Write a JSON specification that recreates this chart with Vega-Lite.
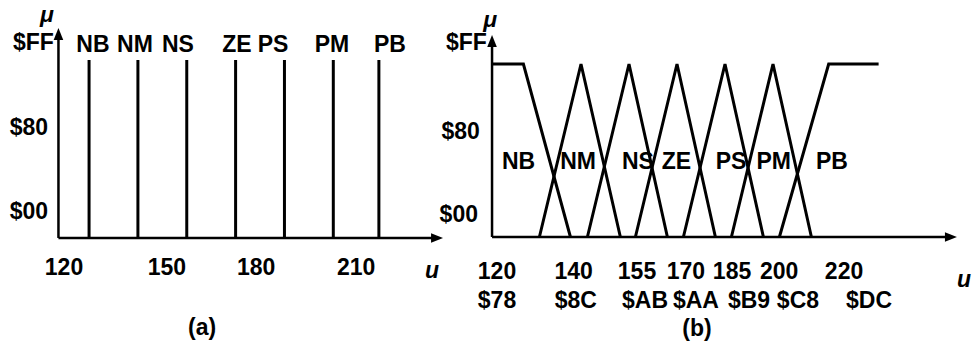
{
  "$schema": "https://vega.github.io/schema/vega-lite/v6.json",
  "autosize": {"type": "pad"},
  "padding": 0,
  "background": "white",
  "spacing": 0,
  "bounds": "flush",
  "config": {"view": {"stroke": null}, "text": {"font": "Liberation Sans", "fontSize": 23, "fontWeight": "bold", "baseline": "middle", "color": "black"}},
  "resolve": {"scale": {"x": "independent", "y": "independent", "shape": "independent"}},
  "datasets": {
    "a_axes": [{"u": 118.6, "u2": 118.6, "m": 0, "m2": 1.13}, {"u": 118.6, "u2": 235, "m": 0, "m2": 0}],
    "a_arrows": [{"u": 118.6, "m": 1.146, "dir": "up"}, {"u": 234.86, "m": 0, "dir": "right"}],
    "a_spikes": [
      {"set": "NB", "u": 128, "m": 1}, {"set": "NM", "u": 143, "m": 1}, {"set": "NS", "u": 158, "m": 1},
      {"set": "ZE", "u": 173, "m": 1}, {"set": "PS", "u": 188, "m": 1}, {"set": "PM", "u": 203, "m": 1},
      {"set": "PB", "u": 217, "m": 1}
    ],
    "a_text": [
      {"kind": "set", "t": "NB", "u": 129.2, "m": 1.084}, {"kind": "set", "t": "NM", "u": 142.1, "m": 1.084},
      {"kind": "set", "t": "NS", "u": 155.3, "m": 1.084}, {"kind": "set", "t": "ZE", "u": 173.4, "m": 1.084},
      {"kind": "set", "t": "PS", "u": 184.5, "m": 1.084}, {"kind": "set", "t": "PM", "u": 202.6, "m": 1.084},
      {"kind": "set", "t": "PB", "u": 220.4, "m": 1.084},
      {"kind": "ylab", "t": "$FF", "u": 117.2, "m": 1.096}, {"kind": "ylab", "t": "$80", "u": 115.4, "m": 0.618},
      {"kind": "ylab", "t": "$00", "u": 115.4, "m": 0.146},
      {"kind": "set", "t": "120", "u": 120.3, "m": -0.169}, {"kind": "set", "t": "150", "u": 151.9, "m": -0.169},
      {"kind": "set", "t": "180", "u": 179.3, "m": -0.169}, {"kind": "set", "t": "210", "u": 210, "m": -0.169},
      {"kind": "set", "t": "(a)", "u": 162.7, "m": -0.506},
      {"kind": "ital", "t": "u", "u": 233.3, "m": -0.185},
      {"kind": "ital", "t": "μ", "u": 115.1, "m": 1.253}
    ],
    "b_axes": [{"u": 112.2, "u2": 112.2, "m": 0, "m2": 1.1}, {"u": 112.2, "u2": 255, "m": 0, "m2": 0}],
    "b_arrows": [{"u": 112.2, "m": 1.133, "dir": "up"}, {"u": 255.6, "m": 0, "dir": "right"}],
    "b_sets": [
      {"set": "NB", "i": 0, "u": 112.2, "m": 1}, {"set": "NB", "i": 1, "u": 122, "m": 1}, {"set": "NB", "i": 2, "u": 136.7, "m": 0},
      {"set": "NM", "i": 0, "u": 127, "m": 0}, {"set": "NM", "i": 1, "u": 140, "m": 1}, {"set": "NM", "i": 2, "u": 152.3, "m": 0},
      {"set": "NS", "i": 0, "u": 142, "m": 0}, {"set": "NS", "i": 1, "u": 155, "m": 1}, {"set": "NS", "i": 2, "u": 167, "m": 0},
      {"set": "ZE", "i": 0, "u": 157, "m": 0}, {"set": "ZE", "i": 1, "u": 170, "m": 1}, {"set": "ZE", "i": 2, "u": 182, "m": 0},
      {"set": "PS", "i": 0, "u": 172, "m": 0}, {"set": "PS", "i": 1, "u": 185, "m": 1}, {"set": "PS", "i": 2, "u": 197, "m": 0},
      {"set": "PM", "i": 0, "u": 187, "m": 0}, {"set": "PM", "i": 1, "u": 200, "m": 1}, {"set": "PM", "i": 2, "u": 212, "m": 0},
      {"set": "PB", "i": 0, "u": 202, "m": 0}, {"set": "PB", "i": 1, "u": 217.4, "m": 1}, {"set": "PB", "i": 2, "u": 233, "m": 1}
    ],
    "b_text": [
      {"kind": "set", "t": "NB", "u": 120.5, "m": 0.434}, {"kind": "set", "t": "NM", "u": 139.1, "m": 0.434},
      {"kind": "set", "t": "NS", "u": 157.8, "m": 0.434}, {"kind": "set", "t": "ZE", "u": 169.8, "m": 0.434},
      {"kind": "set", "t": "PS", "u": 186.9, "m": 0.434}, {"kind": "set", "t": "PM", "u": 200.2, "m": 0.434},
      {"kind": "set", "t": "PB", "u": 218.4, "m": 0.434},
      {"kind": "ylab", "t": "$FF", "u": 110.6, "m": 1.121}, {"kind": "ylab", "t": "$80", "u": 108.4, "m": 0.607},
      {"kind": "ylab", "t": "$00", "u": 107.8, "m": 0.127},
      {"kind": "set", "t": "120", "u": 113.75, "m": -0.202}, {"kind": "set", "t": "140", "u": 137.7, "m": -0.202},
      {"kind": "set", "t": "155", "u": 157.5, "m": -0.202}, {"kind": "set", "t": "170", "u": 172.8, "m": -0.202},
      {"kind": "set", "t": "185", "u": 187.2, "m": -0.202}, {"kind": "set", "t": "200", "u": 201.9, "m": -0.202},
      {"kind": "set", "t": "220", "u": 222.2, "m": -0.202},
      {"kind": "set", "t": "$78", "u": 113.75, "m": -0.37}, {"kind": "set", "t": "$8C", "u": 138.4, "m": -0.37},
      {"kind": "set", "t": "$AB", "u": 160, "m": -0.37}, {"kind": "set", "t": "$AA", "u": 175.9, "m": -0.37},
      {"kind": "set", "t": "$B9", "u": 192.5, "m": -0.37}, {"kind": "set", "t": "$C8", "u": 207.8, "m": -0.37},
      {"kind": "set", "t": "$DC", "u": 230, "m": -0.37},
      {"kind": "set", "t": "(b)", "u": 176.25, "m": -0.532},
      {"kind": "ital", "t": "u", "u": 259.7, "m": -0.249},
      {"kind": "ital", "t": "μ", "u": 111.6, "m": 1.254}
    ]
  },
  "hconcat": [
    {
      "width": 487,
      "height": 346,
      "layer": [
        {
          "data": {"name": "a_axes"},
          "mark": {"type": "rule", "strokeWidth": 2.5, "color": "black"},
          "encoding": {
            "x": {"field": "u", "type": "quantitative", "scale": {"domain": [100.65, 250.2], "nice": false, "zero": false}, "axis": null},
            "x2": {"field": "u2"},
            "y": {"field": "m", "type": "quantitative", "scale": {"domain": [-0.607, 1.337], "nice": false, "zero": false}, "axis": null},
            "y2": {"field": "m2"}
          }
        },
        {
          "data": {"name": "a_spikes"},
          "mark": {"type": "rule", "strokeWidth": 3, "color": "black"},
          "encoding": {
            "x": {"field": "u", "type": "quantitative"},
            "y": {"field": "m", "type": "quantitative"},
            "y2": {"datum": 0}
          }
        },
        {
          "data": {"name": "a_arrows"},
          "mark": {"type": "point", "filled": true, "opacity": 1, "color": "black", "size": 144},
          "encoding": {
            "x": {"field": "u", "type": "quantitative"},
            "y": {"field": "m", "type": "quantitative"},
            "shape": {"field": "dir", "type": "nominal", "scale": {"domain": ["up", "right"], "range": ["M0,-1L0.8,1L-0.8,1Z", "M1,0L-1,0.8L-1,-0.8Z"]}, "legend": null}
          }
        },
        {
          "data": {"name": "a_text"},
          "transform": [{"filter": "datum.kind === 'set'"}],
          "mark": {"type": "text", "align": "center"},
          "encoding": {"x": {"field": "u", "type": "quantitative"}, "y": {"field": "m", "type": "quantitative"}, "text": {"field": "t"}}
        },
        {
          "data": {"name": "a_text"},
          "transform": [{"filter": "datum.kind === 'ylab'"}],
          "mark": {"type": "text", "align": "right"},
          "encoding": {"x": {"field": "u", "type": "quantitative"}, "y": {"field": "m", "type": "quantitative"}, "text": {"field": "t"}}
        },
        {
          "data": {"name": "a_text"},
          "transform": [{"filter": "datum.kind === 'ital'"}],
          "mark": {"type": "text", "align": "center", "fontStyle": "italic"},
          "encoding": {"x": {"field": "u", "type": "quantitative"}, "y": {"field": "m", "type": "quantitative"}, "text": {"field": "t"}}
        }
      ]
    },
    {
      "width": 487,
      "height": 346,
      "layer": [
        {
          "data": {"name": "b_axes"},
          "mark": {"type": "rule", "strokeWidth": 2.5, "color": "black"},
          "encoding": {
            "x": {"field": "u", "type": "quantitative", "scale": {"domain": [110.625, 262.81], "nice": false, "zero": false}, "axis": null},
            "x2": {"field": "u2"},
            "y": {"field": "m", "type": "quantitative", "scale": {"domain": [-0.63, 1.37], "nice": false, "zero": false}, "axis": null},
            "y2": {"field": "m2"}
          }
        },
        {
          "data": {"name": "b_sets"},
          "mark": {"type": "line", "strokeWidth": 3, "color": "black", "strokeJoin": "miter"},
          "encoding": {
            "x": {"field": "u", "type": "quantitative"},
            "y": {"field": "m", "type": "quantitative"},
            "detail": {"field": "set", "type": "nominal"},
            "order": {"field": "i", "type": "quantitative"}
          }
        },
        {
          "data": {"name": "b_arrows"},
          "mark": {"type": "point", "filled": true, "opacity": 1, "color": "black", "size": 144},
          "encoding": {
            "x": {"field": "u", "type": "quantitative"},
            "y": {"field": "m", "type": "quantitative"},
            "shape": {"field": "dir", "type": "nominal", "scale": {"domain": ["up", "right"], "range": ["M0,-1L0.8,1L-0.8,1Z", "M1,0L-1,0.8L-1,-0.8Z"]}, "legend": null}
          }
        },
        {
          "data": {"name": "b_text"},
          "transform": [{"filter": "datum.kind === 'set'"}],
          "mark": {"type": "text", "align": "center"},
          "encoding": {"x": {"field": "u", "type": "quantitative"}, "y": {"field": "m", "type": "quantitative"}, "text": {"field": "t"}}
        },
        {
          "data": {"name": "b_text"},
          "transform": [{"filter": "datum.kind === 'ylab'"}],
          "mark": {"type": "text", "align": "right"},
          "encoding": {"x": {"field": "u", "type": "quantitative"}, "y": {"field": "m", "type": "quantitative"}, "text": {"field": "t"}}
        },
        {
          "data": {"name": "b_text"},
          "transform": [{"filter": "datum.kind === 'ital'"}],
          "mark": {"type": "text", "align": "center", "fontStyle": "italic"},
          "encoding": {"x": {"field": "u", "type": "quantitative"}, "y": {"field": "m", "type": "quantitative"}, "text": {"field": "t"}}
        }
      ]
    }
  ]
}
